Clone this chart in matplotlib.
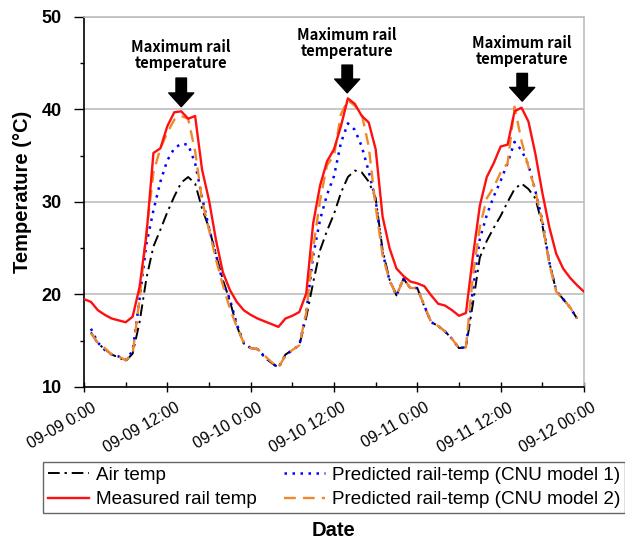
import matplotlib
matplotlib.use("Agg")
import matplotlib.pyplot as plt
import matplotlib.transforms as mtransforms
from matplotlib.ticker import MultipleLocator

plt.rcParams['font.family'] = ['Liberation Sans', 'DejaVu Sans']

# hours since 09-09 0:00
hours_meas = list(range(0, 73))
measured = [19.5, 19.2, 18.3, 17.8, 17.4, 17.2, 17.0, 17.6, 20.8, 26.5,
            35.3, 35.8, 38.2, 39.7, 39.8, 39.0, 39.3, 33.5, 30.2, 25.9,
            22.4, 20.5, 19.2, 18.3, 17.8, 17.4, 17.1, 16.8, 16.5, 17.4,
            17.7, 18.1, 20.1, 27.7, 31.8, 34.4, 35.7, 38.2, 41.2, 40.6,
            39.3, 38.6, 35.7, 28.4, 25.0, 22.8, 22.0, 21.4, 21.2, 20.9,
            19.9, 19.0, 18.8, 18.3, 17.7, 18.0, 24.1, 29.6, 32.7, 34.2,
            36.0, 36.2, 39.8, 40.2, 38.7, 35.2, 31.0, 27.3, 24.4, 22.8,
            21.8, 21.0, 20.3]

hours_pred = list(range(1, 72))
air = [15.9, 14.7, 14.1, 13.5, 13.2, 12.8, 13.6, 17.0, 21.8,
       25.2, 27.0, 28.9, 30.6, 32.1, 32.7, 32.0, 29.3, 27.2, 24.3,
       21.6, 19.3, 16.6, 14.7, 14.2, 14.1, 13.2, 12.6, 12.1, 13.5,
       14.0, 14.5, 17.5, 21.3, 24.8, 26.9, 28.7, 31.0, 32.7, 33.4,
       33.2, 32.2, 30.4, 24.8, 21.6, 19.9, 21.7, 20.7, 20.7, 18.7,
       17.0, 16.6, 16.0, 15.2, 14.2, 14.3, 19.0, 24.0, 25.8, 27.2,
       28.5, 30.0, 31.4, 32.0, 31.4, 30.4, 27.5, 23.5, 20.4, 19.5,
       18.6, 17.4]
model1 = [16.3, 14.8, 14.0, 13.5, 13.3, 12.9, 13.9, 19.5, 25.5,
          29.1, 32.2, 34.5, 35.8, 36.3, 36.2, 34.2, 30.5, 27.2, 24.3,
          21.3, 19.5, 16.8, 14.8, 14.2, 14.1, 13.3, 12.6, 12.1, 13.4,
          14.0, 14.5, 18.0, 24.2, 28.1, 30.8, 32.8, 36.4, 38.5, 37.8,
          36.0, 33.3, 30.2, 24.5, 21.5, 19.9, 21.7, 20.7, 20.7, 18.8,
          17.0, 16.6, 16.0, 15.2, 14.2, 14.3, 20.5, 26.0, 28.6, 30.6,
          32.3, 34.2, 36.5, 35.6, 34.0, 31.2, 28.0, 23.5, 20.4, 19.5,
          18.6, 17.4]
model2 = [15.8, 14.8, 14.2, 13.5, 13.3, 12.9, 13.6, 19.5, 26.8,
          33.2, 35.8, 37.5, 38.9, 39.3, 39.0, 35.5, 30.2, 27.0, 23.8,
          21.0, 18.5, 16.5, 14.8, 14.2, 14.1, 13.4, 12.7, 12.1, 13.4,
          14.0, 14.5, 18.0, 25.0, 30.2, 34.0, 35.0, 39.5, 41.0, 40.4,
          39.5, 36.0, 29.5, 24.2, 21.5, 19.9, 21.7, 20.7, 20.7, 18.8,
          17.0, 16.6, 16.0, 15.2, 14.2, 14.3, 22.0, 27.3, 30.4, 31.6,
          33.2, 34.2, 40.3, 36.6, 33.8, 31.2, 27.8, 23.3, 20.3, 19.5,
          18.6, 17.4]

tick_hours = [0, 12, 24, 36, 48, 60, 72]
tick_labels = ["09-09 0:00", "09-09 12:00", "09-10 0:00", "09-10 12:00",
               "09-11 0:00", "09-11 12:00", "09-12 00:00"]

# annotation: arrow x hour, arrow tip value, arrow top value, text centre value
peak_hours = [14.0, 37.9, 63.1]
peak_tips = [40.3, 41.8, 40.9]
peak_tops = [43.4, 44.8, 43.9]
label_vals = [45.9, 47.2, 46.3]

fig = plt.figure(figsize=(6.25, 5.43), dpi=100)
ax = fig.add_axes([0.1344, 0.2873, 0.8, 0.6814])

ax.plot(hours_pred, air, color='black', lw=1.4, linestyle=(0, (6, 2.5, 1.2, 2.5)),
        label='Air temp', zorder=3)
ax.plot(hours_meas, measured, color='#FF1010', lw=1.7, label='Measured rail temp', zorder=4)
ax.plot(hours_pred, model1, color='#0000FF', lw=1.8, linestyle=(0, (1, 2.2)),
        label='Predicted rail-temp (CNU model 1)', zorder=3)
ax.plot(hours_pred, model2, color='#F0892A', lw=1.7, linestyle=(0, (5, 3)),
        label='Predicted rail-temp (CNU model 2)', zorder=3)

ax.set_xlim(0, 72)
ax.set_ylim(10, 50)
ax.set_xticks(tick_hours)
ax.xaxis.set_minor_locator(MultipleLocator(6))
ax.set_yticks([10, 20, 30, 40, 50])
ax.yaxis.set_minor_locator(MultipleLocator(5))
ax.tick_params(axis='x', which='major', direction='inout', length=7, width=1, pad=6)
ax.tick_params(axis='x', which='minor', direction='in', length=3.5, width=1)
ax.tick_params(axis='y', which='major', direction='out', length=7, width=1, pad=9)
ax.tick_params(axis='y', which='minor', direction='out', length=3, width=1)

ax.set_xticklabels(tick_labels, rotation=30, ha='right', rotation_mode='anchor', fontsize=11.5)
offset = mtransforms.ScaledTranslation(7 / 100, 0, fig.dpi_scale_trans)
for lab in ax.get_xticklabels():
    lab.set_transform(lab.get_transform() + offset)
for lab in ax.get_yticklabels():
    lab.set_fontweight('bold')
    lab.set_fontsize(13)

ax.grid(axis='y', color='#BEBEBE', lw=1.2)
ax.set_axisbelow(True)
ax.spines['top'].set_color('#BEBEBE')
ax.spines['right'].set_color('#BEBEBE')
ax.spines['top'].set_linewidth(1.2)
ax.spines['right'].set_linewidth(1.2)
ax.spines['left'].set_linewidth(1.2)
ax.spines['bottom'].set_linewidth(1.2)

ax.set_ylabel('Temperature (°C)', fontsize=14.5, fontweight='bold')
ax.yaxis.set_label_coords(-0.104, 0.527)

for h, tip, top, tv in zip(peak_hours, peak_tips, peak_tops, label_vals):
    ax.annotate('', xy=(h, tip), xytext=(h, top),
                arrowprops=dict(arrowstyle='simple,head_length=0.55,head_width=1.0,tail_width=0.42',
                                color='black', shrinkA=0, shrinkB=0, mutation_scale=18),
                zorder=6)
    ax.text(h, tv, 'Maximum rail\ntemperature', ha='center', va='center',
            fontsize=10.6, fontweight='bold', linespacing=1.0,
            family=['Noto Sans CJK KR', 'DejaVu Sans'], zorder=6)

leg = fig.legend(loc='upper left', bbox_to_anchor=(43 / 625, 1 - 462 / 543), ncol=2,
                 fontsize=13.6, frameon=True, fancybox=False, edgecolor='#404040',
                 handlelength=2.2, handletextpad=0.35, columnspacing=1.44,
                 borderpad=0.25, labelspacing=0.38, borderaxespad=0)
leg.get_frame().set_linewidth(1.0)

fig.text(0.534, 1 - 531 / 543, 'Date', ha='center', va='center', fontsize=14.5, fontweight='bold')

fig.savefig('out.png', dpi=100)
